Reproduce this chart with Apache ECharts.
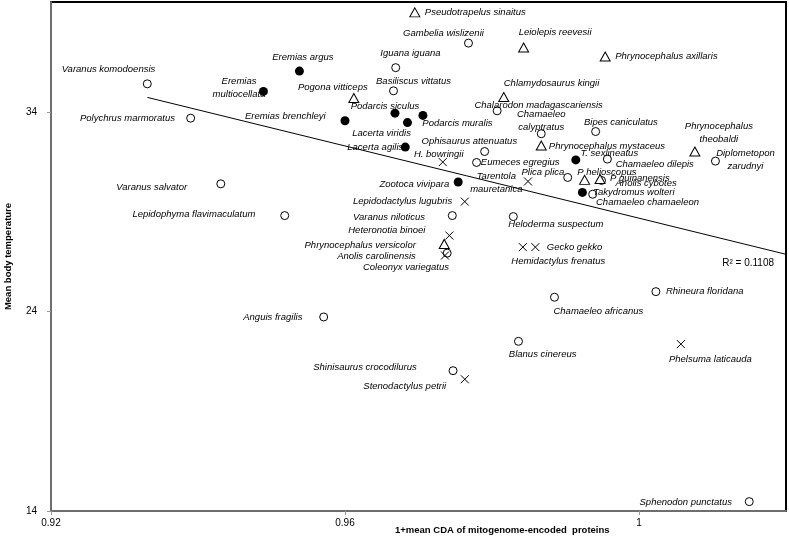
<!DOCTYPE html>
<html>
<head>
<meta charset="utf-8">
<script src="https://cdn.jsdelivr.net/npm/echarts@6/dist/echarts.min.js"></script>
<style>html,body{margin:0;padding:0;background:#fff}#c{width:789px;height:540px}</style>
</head>
<body>
<div id="c"></div>
<script>
// ---- data: [name, x = 1+mean CDA, y = mean body temperature] ----
const openCircles = [
  ['Varanus komodoensis', 0.9331, 35.40],
  ['Polychrus marmoratus', 0.9390, 33.68],
  ['Gambelia wislizenii', 0.9768, 37.44],
  ['Iguana iguana', 0.9669, 36.21],
  ['Basiliscus vittatus', 0.9666, 35.05],
  ['Chalarodon madagascariensis', 0.9807, 34.05],
  ['Chamaeleo\ncalyptratus', 0.9867, 32.90],
  ['Bipes caniculatus', 0.9941, 33.01],
  ['Ophisaurus attenuatus', 0.9790, 32.01],
  ['Eumeces egregius', 0.9779, 31.46],
  ['Chamaeleo dilepis', 0.9957, 31.63],
  ['Diplometopon\nzarudnyi', 1.0104, 31.53],
  ['Plica plica', 0.9903, 30.71],
  ['Anolis cybotes', 0.9949, 30.56],
  ['Chamaeleo chamaeleon', 0.9937, 29.87],
  ['Varanus salvator', 0.9431, 30.39],
  ['Lepidophyma flavimaculatum', 0.9518, 28.80],
  ['Varanus niloticus', 0.9746, 28.80],
  ['Heloderma suspectum', 0.9829, 28.75],
  ['Anolis carolinensis', 0.9739, 26.92],
  ['Anguis fragilis', 0.9571, 23.72],
  ['Chamaeleo africanus', 0.9885, 24.71],
  ['Rhineura floridana', 1.0023, 24.99],
  ['Blanus cinereus', 0.9836, 22.50],
  ['Shinisaurus crocodilurus', 0.9747, 21.03],
  ['Sphenodon punctatus', 1.0150, 14.47]
];
const filledCircles = [
  ['Eremias argus', 0.9538, 36.04],
  ['Eremias\nmultiocellata', 0.9489, 35.02],
  ['Eremias brenchleyi', 0.9600, 33.55],
  ['Podarcis siculus', 0.9668, 33.93],
  ['Lacerta viridis', 0.9685, 33.46],
  ['Podarcis muralis', 0.9706, 33.82],
  ['Lacerta agilis', 0.9682, 32.23],
  ['Zootoca vivipara', 0.9754, 30.48],
  ['T. sexlineatus', 0.9914, 31.59],
  ['Takydromus wolteri', 0.9923, 29.96]
];
const triangles = [
  ['Pseudotrapelus sinaitus', 0.9695, 38.98],
  ['Leiolepis reevesii', 0.9843, 37.22],
  ['Phrynocephalus axillaris', 0.9954, 36.77],
  ['Pogona vitticeps', 0.9612, 34.69],
  ['Chlamydosaurus kingii', 0.9816, 34.74],
  ['Phrynocephalus mystaceus', 0.9867, 32.31],
  ['Phrynocephalus\ntheobaldi', 1.0076, 32.01],
  ['P helioscopus', 0.9926, 30.59],
  ['P guinanensis', 0.9947, 30.63],
  ['Phrynocephalus versicolor', 0.9735, 27.38]
];
const crosses = [
  ['H. bowringii', 0.9733, 31.48],
  ['Tarentola\nmauretanica', 0.9849, 30.51],
  ['Lepidodactylus lugubris', 0.9763, 29.50],
  ['Heteronotia binoei', 0.9742, 27.80],
  ['Coleonyx variegatus', 0.9736, 26.80],
  ['Hemidactylus frenatus', 0.9842, 27.22],
  ['Gecko gekko', 0.9859, 27.22],
  ['Phelsuma laticauda', 1.0057, 22.36],
  ['Stenodactylus petrii', 0.9763, 20.60]
];
// linear trend line (endpoints)
const trendX = [0.93312, 1.02];
const trendY = [34.72, 26.86];
const rSquared = 'R² = 0.1108';
const xTitle = '1+mean CDA of mitogenome-encoded  proteins';
const yTitle = 'Mean body temperature';

// ---- label layout (anchor side, dx, dy in px relative to the marker) ----
const labelLayout = {
  'Varanus komodoensis': ['right', 8, -14],
  'Polychrus marmoratus': ['right', -15.7, 0],
  'Gambelia wislizenii': ['center', -25, -10],
  'Iguana iguana': ['center', 14.7, -14],
  'Basiliscus vittatus': ['center', 20, -9],
  'Chalarodon madagascariensis': ['left', -22.7, -5.7],
  'Chamaeleo\ncalyptratus': ['center', 0, -12.7],
  'Bipes caniculatus': ['left', -11.7, -9],
  'Ophisaurus attenuatus': ['center', -15.3, -10],
  'Eumeces egregius': ['left', 4.3, 0],
  'Chamaeleo dilepis': ['left', 8.3, 5],
  'Diplometopon\nzarudnyi': ['center', 30, -1],
  'Plica plica': ['right', -3.4, -5],
  'Anolis cybotes': ['left', 14, 3.3],
  'Chamaeleo chamaeleon': ['left', 3.3, 8.4],
  'Varanus salvator': ['right', -33.6, 3.7],
  'Lepidophyma flavimaculatum': ['right', -29.3, -1.4],
  'Varanus niloticus': ['right', -27.3, 2],
  'Heloderma suspectum': ['left', -5, 7.3],
  'Anolis carolinensis': ['right', -31.3, 3.7],
  'Anguis fragilis': ['right', -21.3, 0],
  'Chamaeleo africanus': ['left', -1, 14.4],
  'Rhineura floridana': ['left', 10, 0],
  'Blanus cinereus': ['left', -9.6, 13.3],
  'Shinisaurus crocodilurus': ['right', -36.3, -3],
  'Sphenodon punctatus': ['right', -17.3, 0.6],
  'Eremias argus': ['center', 3.4, -13.6],
  'Eremias\nmultiocellata': ['center', -24.4, -3.7],
  'Eremias brenchleyi': ['right', -19.3, -4.3],
  'Podarcis siculus': ['center', -10, -6.6],
  'Lacerta viridis': ['center', -25.9, 10.6],
  'Podarcis muralis': ['left', -0.6, 7.6],
  'Lacerta agilis': ['right', -2, 0],
  'Zootoca vivipara': ['right', -9, 2.7],
  'T. sexlineatus': ['left', 4.6, -6.7],
  'Takydromus wolteri': ['left', 10.6, 0],
  'Pseudotrapelus sinaitus': ['left', 10, 0],
  'Leiolepis reevesii': ['center', 31.5, -15.4],
  'Phrynocephalus axillaris': ['left', 10, 0],
  'Pogona vitticeps': ['center', -21, -11],
  'Chlamydosaurus kingii': ['left', 0, -14],
  'Phrynocephalus mystaceus': ['left', 7.6, 1],
  'Phrynocephalus\ntheobaldi': ['center', 24, -18.7],
  'P helioscopus': ['left', -7.3, -7.7],
  'P guinanensis': ['left', 10, -1],
  'Phrynocephalus versicolor': ['right', -28.3, 1.7],
  'H. bowringii': ['center', -4, -7.3],
  'Tarentola\nmauretanica': ['center', -31.7, 1.3],
  'Lepidodactylus lugubris': ['right', -12.6, 0],
  'Heteronotia binoei': ['right', -24, -5],
  'Coleonyx variegatus': ['right', 4, 12],
  'Hemidactylus frenatus': ['left', -11.6, 14.4],
  'Gecko gekko': ['left', 11.4, 0],
  'Phelsuma laticauda': ['left', -12, 15],
  'Stenodactylus petrii': ['right', -18.6, 7.4]
};

const FONT = 'Liberation Sans';
function toItems(arr) {
  return arr.map(function (d) {
    const lay = labelLayout[d[0]] || ['left', 8, 0];
    return {
      name: d[0],
      value: [d[1], d[2]],
      label: {
        show: true, position: 'inside', formatter: '{b}',
        align: lay[0], verticalAlign: 'middle', offset: [lay[1], lay[2]],
        color: '#000', opacity: 1, fontStyle: 'italic', fontSize: 9.5, fontFamily: FONT,
        lineHeight: 12.6, textBorderWidth: 0
      }
    };
  });
}

const chart = echarts.init(document.getElementById('c'), null, {renderer: 'canvas'});
const axisLabelStyle = {color: '#000', fontSize: 10, fontFamily: FONT};
chart.setOption({
  animation: false,
  backgroundColor: '#fff',
  grid: {left: 51, right: 3, top: 2, bottom: 29, show: true, borderColor: '#000', borderWidth: 2,
         backgroundColor: 'transparent', outerBoundsMode: 'none', containLabel: false},
  xAxis: {
    type: 'value', min: 0.92, max: 1.02, interval: 0.04,
    axisLine: {show: true, lineStyle: {color: '#6e6e6e', width: 2}},
    axisTick: {show: true, length: 4, lineStyle: {color: '#999'}},
    splitLine: {show: false},
    axisLabel: Object.assign({showMaxLabel: false, margin: 7}, axisLabelStyle)
  },
  yAxis: {
    type: 'value', min: 14, max: 39.5, interval: 10,
    name: yTitle, nameLocation: 'middle', nameGap: 38, nameRotate: 90,
    nameTextStyle: {color: '#000', fontWeight: 'bold', fontSize: 9.5, fontFamily: FONT},
    axisLine: {show: true, lineStyle: {color: '#6e6e6e', width: 2}},
    axisTick: {show: true, length: 4, lineStyle: {color: '#999'}},
    splitLine: {show: false},
    axisLabel: Object.assign({showMaxLabel: false, margin: 14}, axisLabelStyle)
  },
  graphic: [
    {type: 'text', left: 395, top: 525, silent: true,
     style: {text: xTitle, fill: '#000', font: 'bold 9.5px "Liberation Sans"'}},
    {type: 'text', right: 15, top: 258, silent: true,
     style: {text: rSquared, fill: '#000', font: '10px "Liberation Sans"'}}
  ],
  series: [
    {
      type: 'line', data: trendX.map(function (x, i) { return [x, trendY[i]]; }),
      symbol: 'none', silent: true, lineStyle: {color: '#000', width: 1, opacity: 1}, z: 1
    },
    {
      type: 'scatter', name: 'open', data: toItems(openCircles), symbol: 'circle', symbolSize: 8,
      itemStyle: {color: '#fff', borderColor: '#000', borderWidth: 1, opacity: 1}, z: 3
    },
    {
      type: 'scatter', name: 'filled', data: toItems(filledCircles), symbol: 'circle', symbolSize: 9,
      itemStyle: {color: '#000', borderColor: '#000', borderWidth: 0, opacity: 1}, z: 3
    },
    {
      type: 'scatter', name: 'triangle', data: toItems(triangles), symbol: 'triangle', symbolSize: [10, 9],
      itemStyle: {color: '#fff', borderColor: '#000', borderWidth: 1, opacity: 1}, z: 3
    },
    {
      type: 'scatter', name: 'cross', data: toItems(crosses), symbol: 'path://M0,0L10,10M10,0L0,10', symbolSize: 8,
      itemStyle: {color: 'none', borderColor: '#000', borderWidth: 1, opacity: 1}, z: 3
    }
  ]
});
</script>
</body>
</html>
